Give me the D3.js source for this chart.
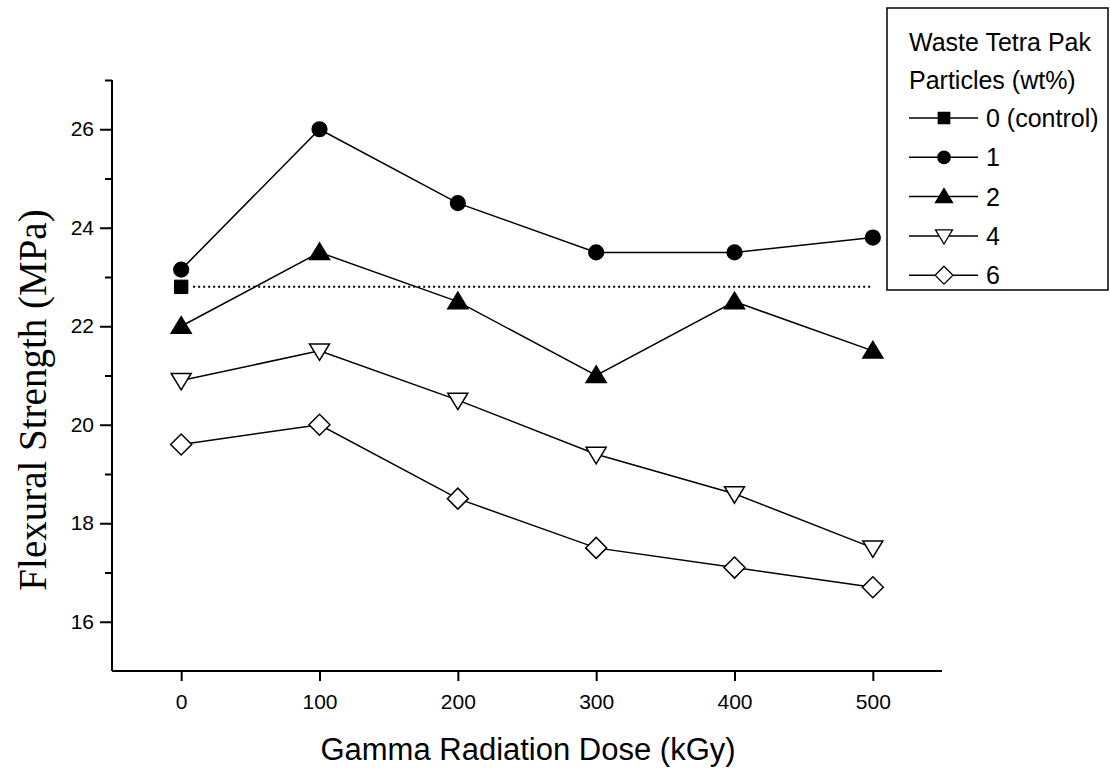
<!DOCTYPE html>
<html>
<head>
<meta charset="utf-8">
<script src="https://cdn.jsdelivr.net/npm/d3@7"></script>
<style>
  body { margin: 0; background: #fff; }
  svg { display: block; }
  text { fill: #000; }
</style>
</head>
<body>
<svg id="chart" width="1110" height="768"></svg>
<script>
// ---- data ----
const doses = [0, 100, 200, 300, 400, 500];
const wt1 = [23.15, 26.0, 24.5, 23.5, 23.5, 23.8];
const wt2 = [22.0, 23.5, 22.5, 21.0, 22.5, 21.5];
const wt4 = [20.9, 21.5, 20.5, 19.4, 18.6, 17.5];
const wt6 = [19.6, 20.0, 18.5, 17.5, 17.1, 16.7];
const controlValue = 22.8;
const controlDose = 0;
const yTicks = [16, 18, 20, 22, 24, 26];
const yMinorTicks = [17, 19, 21, 23, 25, 27];
const xTicks = [0, 100, 200, 300, 400, 500];
const legendTitle = ["Waste Tetra Pak", "Particles (wt%)"];
const legendLabels = ["0 (control)", "1", "2", "4", "6"];
const xTitle = "Gamma Radiation Dose (kGy)";
const yTitle = "Flexural Strength (MPa)";

// ---- layout ----
const svg = d3.select("#chart");
const plot = { left: 112, right: 942, top: 80, bottom: 671 };
const x = d3.scaleLinear().domain([-50, 550]).range([plot.left, plot.right]);
const y = d3.scaleLinear().domain([15, 27]).range([plot.bottom, plot.top]);

const sans = "'Liberation Sans', Arial, sans-serif";
const serif = "'Liberation Serif', 'Times New Roman', serif";

// ---- axes ----
const yAxis = d3.axisLeft(y).tickValues(yTicks).tickSize(12).tickPadding(6).tickFormat(d3.format("d"));
const yAxisMinor = d3.axisLeft(y).tickValues(yMinorTicks).tickSize(7).tickFormat("");
const xAxis = d3.axisBottom(x).tickValues(xTicks).tickSize(10).tickPadding(13).tickFormat(d3.format("d"));

const gy = svg.append("g").attr("transform", `translate(${plot.left},0)`).call(yAxis);
const gym = svg.append("g").attr("transform", `translate(${plot.left},0)`).call(yAxisMinor);
const gx = svg.append("g").attr("transform", `translate(0,${plot.bottom})`).call(xAxis);
gym.select(".domain").remove();
[gy, gym, gx].forEach(g => {
  g.selectAll("path.domain").attr("stroke", "#000").attr("stroke-width", 2);
  g.selectAll(".tick line").attr("stroke", "#000").attr("stroke-width", 2);
  g.selectAll(".tick text").attr("font-family", sans).attr("font-size", 21).attr("fill", "#000");
});
gy.select(".domain").attr("d", `M0,${y(27)}V${y(15)}`);
gx.select(".domain").attr("d", `M${x(-50)},0H${x(550)}`);

// ---- titles ----
svg.append("text")
  .attr("x", 528)
  .attr("y", 760)
  .attr("text-anchor", "middle")
  .attr("font-family", sans)
  .attr("font-size", 31)
  .text(xTitle);

svg.append("text")
  .attr("transform", `translate(46,400) rotate(-90)`)
  .attr("text-anchor", "middle")
  .attr("font-family", serif)
  .attr("font-size", 39)
  .text(yTitle);

// ---- symbols ----
const symCircle = d3.symbol().type(d3.symbolCircle).size(170);
const symSquare = d3.symbol().type(d3.symbolSquare).size(180);
const triUp = "M0,-9.5L10,7L-10,7Z";
const triDown = "M0,9.5L10,-7L-10,-7Z";
const diamond = "M0,-10.5L10.5,0L0,10.5L-10.5,0Z";

const series = [
  { values: wt1, shape: symCircle(), fill: "#000" },
  { values: wt2, shape: triUp, fill: "#000" },
  { values: wt4, shape: triDown, fill: "#fff" },
  { values: wt6, shape: diamond, fill: "#fff" }
];

const line = d3.line().x((d, i) => x(doses[i])).y(d => y(d));

// control dotted line
svg.append("line")
  .attr("x1", x(controlDose) + 12).attr("x2", x(500))
  .attr("y1", y(controlValue)).attr("y2", y(controlValue))
  .attr("stroke", "#000").attr("stroke-width", 2).attr("stroke-dasharray", "2,3");

series.forEach(s => {
  svg.append("path").datum(s.values).attr("d", line)
    .attr("fill", "none").attr("stroke", "#000").attr("stroke-width", 1.5);
});
series.forEach(s => {
  svg.selectAll(null).data(s.values).enter().append("path")
    .attr("d", s.shape)
    .attr("transform", (d, i) => `translate(${x(doses[i])},${y(d)})`)
    .attr("fill", s.fill).attr("stroke", "#000").attr("stroke-width", 1.5);
});
svg.append("path").attr("d", symSquare())
  .attr("transform", `translate(${x(controlDose)},${y(controlValue)})`)
  .attr("fill", "#000").attr("stroke", "#000").attr("stroke-width", 1);

// ---- legend ----
const lg = svg.append("g");
lg.append("rect").attr("x", 887).attr("y", 8).attr("width", 221).attr("height", 282)
  .attr("fill", "#fff").attr("stroke", "#000").attr("stroke-width", 1.5);
legendTitle.forEach((t, i) => {
  lg.append("text").attr("x", 909).attr("y", 51 + i * 38)
    .attr("font-family", sans).attr("font-size", 25).text(t);
});
const legendShapes = [symSquare(), symCircle(), triUp, triDown, diamond];
const legendFills = ["#000", "#000", "#000", "#fff", "#fff"];
legendLabels.forEach((lab, i) => {
  const cy = 118 + i * 39.3;
  lg.append("line").attr("x1", 909).attr("x2", 978).attr("y1", cy).attr("y2", cy)
    .attr("stroke", "#000").attr("stroke-width", 1.5);
  lg.append("path").attr("d", legendShapes[i])
    .attr("transform", `translate(944,${cy}) scale(0.85)`)
    .attr("fill", legendFills[i]).attr("stroke", "#000").attr("stroke-width", 1.5);
  lg.append("text").attr("x", 986).attr("y", cy + 9)
    .attr("font-family", sans).attr("font-size", 25).text(lab);
});
</script>
</body>
</html>
